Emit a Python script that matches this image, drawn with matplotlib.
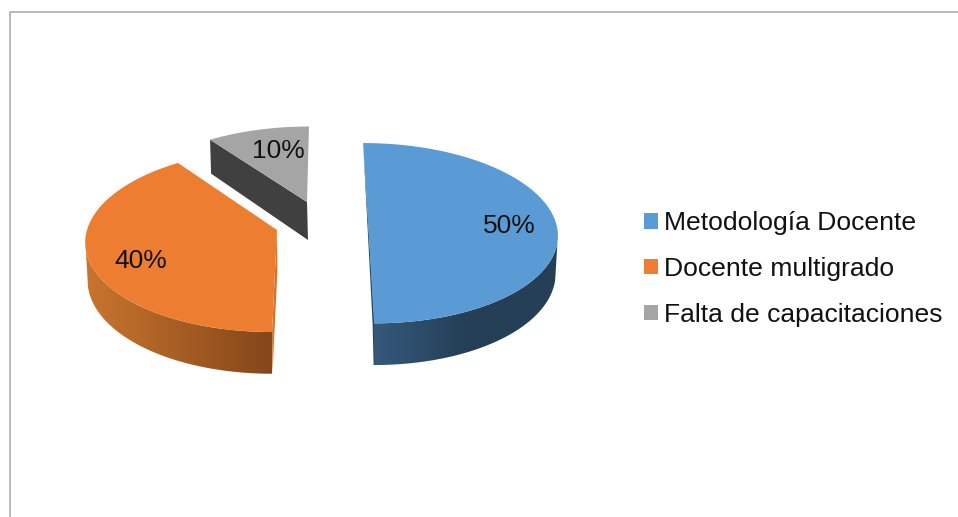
"""Exploded 3D-look pie: top faces and rims are drawn in pixel coordinates."""
import numpy as np
import matplotlib
matplotlib.use("Agg")
import matplotlib.pyplot as plt
from matplotlib.colors import LinearSegmentedColormap
from matplotlib.patches import Patch, Polygon

plt.rcParams["font.family"] = ["Liberation Sans", "DejaVu Sans"]

categories = ["Metodología Docente", "Docente multigrado", "Falta de capacitaciones"]
values = [50, 40, 10]
value_labels = ["50%", "40%", "10%"]

top_colors = ["#5b9bd5", "#ed7d31", "#a5a5a5"]
# colour stops of the front wall, left to right
rim_stops = [
    ["#36597a", "#2c4c69", "#243f56", "#243f56", "#243f56"],
    ["#c9742f", "#b86a29", "#a75e24", "#96521e", "#84461a"],
    ["#404040", "#404040"],
]
cut_colors = ["#2a4a66", "#d0762f", "#404040"]

# per-slice projection: centre x/y, x radius, y radius, lean of the vertical axis
slice_geometry = [
    (368, 223, 188, 89, -5.4),
    (277, 230, 190, 90.5, 4.4),
    (307, 202, 183, 84, 2.2),
]
label_centers = [(509, 226), (141, 260.5), (278, 151.5)]
PERSPECTIVE = 0.113
DEPTH = 37
BOTTOM_SHRINK = 0.988


def project(theta, geom):
    cx, cy, rx, ry, lean = geom
    u, v = np.cos(theta), np.sin(theta)
    w = 1 + PERSPECTIVE * v
    return cx + (rx * u + lean * v) / w, cy - ry * v / w, DEPTH / w


def draw_wall(ax, thetas, xs, ys, depth, cx, stops):
    # gradient image clipped to the wall outline, no seams between steps
    upper = np.sin(thetas) < -0.11      # from the widest point of the top face
    lower = np.sin(thetas) < -0.2       # straight tangent up to that point
    low_x = cx + (xs - cx) * BOTTOM_SHRINK
    outline = np.r_[np.c_[xs[upper], ys[upper]],
                    np.c_[low_x[lower], (ys + depth)[lower]][::-1]]
    cmap = LinearSegmentedColormap.from_list("wall", stops)
    x0, x1 = outline[:, 0].min(), outline[:, 0].max()
    y0, y1 = outline[:, 1].min(), outline[:, 1].max()
    img = ax.imshow(np.linspace(0, 1, 256)[None, :], cmap=cmap, aspect="auto",
                    extent=(x0, x1, y1, y0), zorder=2)
    img.set_clip_path(Polygon(outline, transform=ax.transData))


def draw_slice(ax, start, end, geom, top, stops, cut, index):
    thetas = np.linspace(start, end, 160)
    xs, ys, depth = project(thetas, geom)
    cx, cy = geom[0], geom[1]

    if (np.sin(thetas) < -0.2).sum() > 1:
        draw_wall(ax, thetas, xs, ys, depth, cx, stops)

    # cut faces
    if index == 0:
        ax.fill([xs[0], xs[-1] + 0.5, xs[-1] + 0.5, xs[-1] - 0.5, xs[-1] - 1.5],
                [ys[0], ys[-1], ys[-1] + depth[-1], ys[-1] + depth[-1], ys[-1]],
                color=cut, lw=0, zorder=2)
    elif index == 1:
        ax.fill([cx, cx + 0.4, xs[0] + 0.4, xs[0]],
                [cy, cy + DEPTH + 5, ys[0] + depth[0], ys[0]],
                color=cut, lw=0, zorder=2)
    else:
        ax.fill([xs[0], cx, cx + 1, xs[0] + 1],
                [ys[0], cy, cy + DEPTH + 1, ys[0] + depth[0]],
                color=cut, lw=0, zorder=2)

    ax.fill(np.r_[cx, xs], np.r_[cy, ys], color=top, lw=0, zorder=3)


fig = plt.figure(figsize=(9.58, 5.17), dpi=100)
ax = fig.add_axes([0, 0, 1, 1])

# frame of the cropped chart area
ax.plot([958, 10.5, 10.5], [11.5, 11.5, 517], color="#a6a6a6", lw=1.1, zorder=1)

shares = np.array(values) / sum(values)
angle = np.pi / 2
for i, share in enumerate(shares):
    next_angle = angle - 2 * np.pi * share
    draw_slice(ax, angle, next_angle, slice_geometry[i], top_colors[i],
               rim_stops[i], cut_colors[i], i)
    angle = next_angle

ax.set_xlim(0, 958)
ax.set_ylim(517, 0)
ax.axis("off")

for text, (x, y) in zip(value_labels, label_centers):
    ax.text(x, y, text, fontsize=19, color="#111111", ha="center", va="center", zorder=5)

handles = [Patch(facecolor=c, edgecolor="none") for c in top_colors]
ax.legend(handles, categories, loc="center left", bbox_to_anchor=(644 / 958, 1 - 269 / 517),
          frameon=False, fontsize=19.05, handlelength=0.53, handleheight=0.53,
          handletextpad=0.22, labelspacing=0.82, borderpad=0, borderaxespad=0,
          labelcolor="#111111")

fig.savefig("out.png", dpi=100)
